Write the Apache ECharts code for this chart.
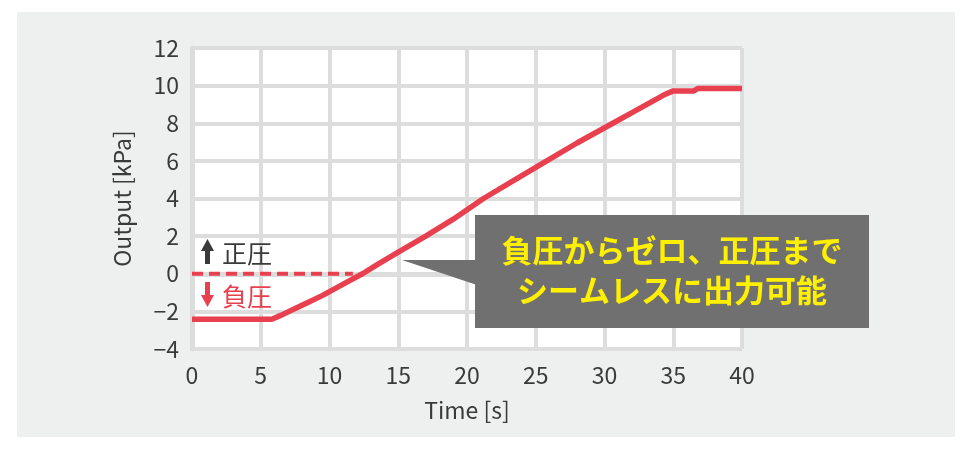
<!DOCTYPE html>
<html>
<head>
<meta charset="utf-8">
<script src="https://cdn.jsdelivr.net/npm/echarts@6/dist/echarts.min.js"></script>
<style>
  html, body { margin: 0; padding: 0; background: #fff; }
  #chart { width: 969px; height: 449px; }
</style>
</head>
<body>
<div id="chart"></div>
<script>
// 読み取った値
var timeS = [0, 1, 2, 3, 4, 5, 5.8, 6.5, 7.5, 8.5, 9.5, 10.5, 11.5, 12.4, 13.5, 15, 17, 19, 21.2, 23.5, 25.8, 28, 30.6, 32.1, 34.3, 35, 36.5, 36.8, 40];
var outputKPa = [-2.42, -2.42, -2.42, -2.42, -2.42, -2.42, -2.42, -2.2, -1.85, -1.5, -1.15, -0.75, -0.35, 0, 0.5, 1.15, 2.0, 2.9, 4.0, 5.0, 6.0, 6.95, 8.0, 8.6, 9.5, 9.72, 9.72, 9.85, 9.85];
var zeroLineT = [0, 11.7];
var zeroLineV = [0, 0];

var font = '"Noto Sans CJK JP", "Noto Sans", sans-serif';
var red = '#e8404f';
var textColor = '#3a3a3a';
var gridColor = '#dcdddc';

function pairs(xs, ys) {
  return xs.map(function (x, i) { return [x, ys[i]]; });
}

var myChart = echarts.init(document.getElementById('chart'));

var option = {
  backgroundColor: '#fff',
  animation: false,
  textStyle: { fontFamily: font },
  grid: {
    left: 192, right: 227, top: 48, bottom: 100,
    show: true, backgroundColor: '#fff', borderWidth: 0
  },
  xAxis: {
    type: 'value',
    min: 0, max: 40, interval: 5,
    name: 'Time [s]',
    nameLocation: 'middle',
    nameGap: 50,
    nameTextStyle: { fontSize: 23, color: textColor, fontFamily: font },
    axisLine: { show: true, lineStyle: { color: gridColor, width: 5 } },
    axisTick: { show: false },
    axisLabel: { fontSize: 23, color: textColor, margin: 15, fontFamily: font },
    splitLine: { show: true, lineStyle: { color: gridColor, width: 4 } }
  },
  yAxis: {
    type: 'value',
    min: -4, max: 12, interval: 2,
    name: 'Output [kPa]',
    nameLocation: 'middle',
    nameGap: 58,
    nameTextStyle: { fontSize: 23, color: textColor, fontFamily: font },
    axisLine: { show: true, lineStyle: { color: gridColor, width: 5 } },
    axisTick: { show: false },
    axisLabel: {
      fontSize: 23, color: textColor, margin: 13, fontFamily: font,
      formatter: function (v) { return String(v).replace('-', '\u2212'); }
    },
    splitLine: { show: true, lineStyle: { color: gridColor, width: 4 } }
  },
  series: [
    {
      name: 'zero',
      type: 'line',
      data: pairs(zeroLineT, zeroLineV),
      symbol: 'none',
      lineStyle: { color: red, width: 4, type: [11, 6] },
      z: 3
    },
    {
      name: 'output',
      type: 'line',
      data: pairs(timeS, outputKPa),
      symbol: 'none',
      smooth: false,
      lineStyle: { color: red, width: 5.5 },
      z: 4
    }
  ],
  graphic: [
    // 背景
    { type: 'rect', z: -100, silent: true,
      shape: { x: 17, y: 12, width: 938, height: 425 },
      style: { fill: '#eef0ef' } },
    // 正圧
    { type: 'rect', z: 50, shape: { x: 205, y: 250, width: 5, height: 14 }, style: { fill: textColor } },
    { type: 'polygon', z: 50, shape: { points: [[201, 251], [214, 251], [207.5, 239]] }, style: { fill: textColor } },
    { type: 'text', z: 50, x: 222, y: 253,
      style: { text: '正圧', font: '25px ' + font, fill: textColor, textVerticalAlign: 'middle' } },
    // 負圧
    { type: 'rect', z: 50, shape: { x: 205, y: 282, width: 5, height: 14 }, style: { fill: red } },
    { type: 'polygon', z: 50, shape: { points: [[201, 295], [214, 295], [207.5, 307]] }, style: { fill: red } },
    { type: 'text', z: 50, x: 222, y: 296,
      style: { text: '負圧', font: '25px ' + font, fill: red, textVerticalAlign: 'middle' } },
    // 吹き出し
    { type: 'polygon', z: 60, shape: { points: [[402, 260], [480, 260], [480, 286]] }, style: { fill: '#707070' } },
    { type: 'rect', z: 60, shape: { x: 475, y: 215, width: 394, height: 113 }, style: { fill: '#707070' } },
    { type: 'text', z: 61, x: 672, y: 250,
      style: { text: '負圧からゼロ、正圧まで', font: 'bold 31px ' + font, fill: '#fff000',
        textAlign: 'center', textVerticalAlign: 'middle' } },
    { type: 'text', z: 61, x: 672, y: 290,
      style: { text: 'シームレスに出力可能', font: 'bold 31px ' + font, fill: '#fff000',
        textAlign: 'center', textVerticalAlign: 'middle' } }
  ]
};

myChart.setOption(option);
window.addEventListener('resize', function () {
  myChart.resize();
});
</script>
</body>
</html>
